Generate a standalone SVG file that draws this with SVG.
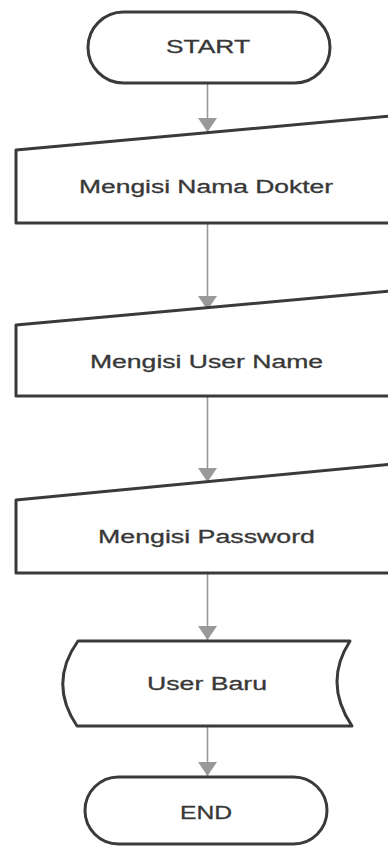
<svg xmlns="http://www.w3.org/2000/svg" width="388" height="847" viewBox="0 0 388 847">
<style>
.shape{fill:#fff;stroke:#3a3a3a;stroke-width:3;stroke-linejoin:round}
.lbl{font-family:"Liberation Sans",Arial,sans-serif;font-size:18px;fill:#383838;stroke:#383838;stroke-width:0.3}
.conn{stroke:#999;stroke-width:1.6;fill:none}
</style>
<defs>
<marker id="ah" markerUnits="userSpaceOnUse" markerWidth="14" markerHeight="19" viewBox="0 0 14 19" refX="14" refY="9.5" orient="auto">
<path d="M0,0 L14,9.5 L0,19 Z" fill="#999"/>
</marker>
</defs>
<rect width="388" height="847" fill="#fff"/>
<g id="connectors">
<line class="conn" x1="207.5" y1="84" x2="207.5" y2="132" marker-end="url(#ah)"/>
<line class="conn" x1="207.5" y1="224" x2="207.5" y2="310" marker-end="url(#ah)"/>
<line class="conn" x1="207.5" y1="397" x2="207.5" y2="482" marker-end="url(#ah)"/>
<line class="conn" x1="207.5" y1="574" x2="207.5" y2="640" marker-end="url(#ah)"/>
<line class="conn" x1="207.5" y1="727" x2="207.5" y2="776" marker-end="url(#ah)"/>
</g>
<g id="start">
<rect class="shape" x="88" y="12" width="242" height="71" rx="35.5"/>
<text class="lbl" x="166" y="53" font-size="19" textLength="84" lengthAdjust="spacingAndGlyphs">START</text>
</g>
<g id="nama">
<path class="shape" d="M16,223 L16,150 L392,116 L392,223 Z"/>
<text class="lbl" x="79" y="193" textLength="254" lengthAdjust="spacingAndGlyphs">Mengisi Nama Dokter</text>
</g>
<g id="username">
<path class="shape" d="M16,396 L16,325 L392,291 L392,396 Z"/>
<text class="lbl" x="90" y="368" textLength="233" lengthAdjust="spacingAndGlyphs">Mengisi User Name</text>
</g>
<g id="password">
<path class="shape" d="M16,573 L16,500 L392,464 L392,573 Z"/>
<text class="lbl" x="98" y="543" textLength="217" lengthAdjust="spacingAndGlyphs">Mengisi Password</text>
</g>
<g id="userbaru">
<path class="shape" d="M78,641 L350,641 Q323,683 352,726 L77,726 Q48,683 78,641 Z"/>
<text class="lbl" x="147" y="690" textLength="120" lengthAdjust="spacingAndGlyphs">User Baru</text>
</g>
<g id="end">
<rect class="shape" x="85" y="777" width="242" height="67" rx="33.5"/>
<text class="lbl" x="180" y="819" font-size="19" textLength="52" lengthAdjust="spacingAndGlyphs">END</text>
</g>
</svg>
